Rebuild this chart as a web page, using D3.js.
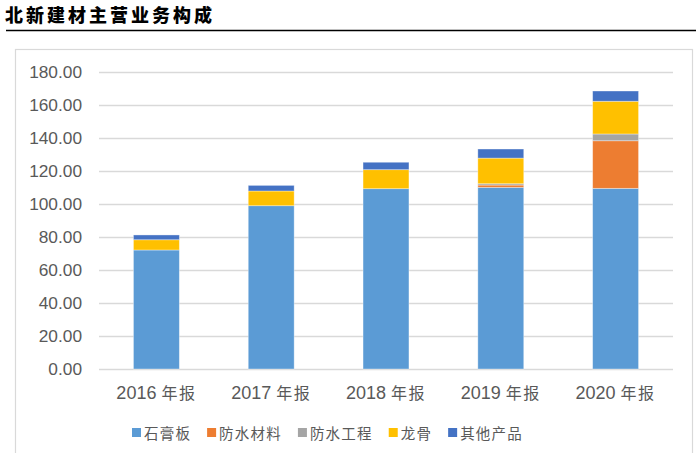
<!DOCTYPE html>
<html><head><meta charset="utf-8">
<script src="https://cdn.jsdelivr.net/npm/d3@7"></script>
<style>
html,body{margin:0;padding:0;background:#fff;}
svg{display:block;}
</style></head>
<body>
<svg id="c" width="696" height="453"></svg>
<script>
const title = "北新建材主营业务构成";
const categories = ["2016", "2017", "2018", "2019", "2020"];
const categorySuffix = "年报";
const seriesNames = ["石膏板", "防水材料", "防水工程", "龙骨", "其他产品"];
const seriesColors = ["#5B9BD5", "#ED7D31", "#A5A5A5", "#FFC000", "#4472C4"];
const gypsumBoard = [72.0, 98.8, 109.1, 109.9, 109.3];
const waterproofMaterial = [0, 0, 0, 1.4, 28.8];
const waterproofEngineering = [0, 0, 0, 0.8, 4.1];
const keel = [6.2, 8.9, 11.5, 15.5, 19.8];
const otherProducts = [2.9, 3.4, 4.5, 5.5, 6.2];
const yTicks = [0, 20, 40, 60, 80, 100, 120, 140, 160, 180];

const seriesValues = [gypsumBoard, waterproofMaterial, waterproofEngineering, keel, otherProducts];
const table = categories.map((c, i) => {
  const row = {cat: c};
  seriesNames.forEach((s, j) => row[s] = seriesValues[j][i]);
  return row;
});

const svg = d3.select("#c");
const cjk = "'Noto Sans CJK SC', sans-serif";
const latin = "'Liberation Sans', Arial, sans-serif";

// title
svg.append("text").attr("x", 5).attr("y", 22)
  .attr("font-family", cjk).attr("font-weight", 900).attr("font-size", 18)
  .attr("letter-spacing", 3).attr("fill", "#000").text(title);
svg.append("line").attr("x1", 6).attr("x2", 696).attr("y1", 30.5).attr("y2", 30.5)
  .attr("stroke", "#000").attr("stroke-width", 1.3);

// frame
svg.append("rect").attr("x", 15.5).attr("y", 49.5).attr("width", 677).attr("height", 420)
  .attr("fill", "#fff").attr("stroke", "#D9D9D9").attr("stroke-width", 1.2);

const x = d3.scaleBand().domain(categories).range([99, 673]).paddingInner(0.6).paddingOuter(0.3);
const y = d3.scaleLinear().domain([0, 180]).range([369, 71.5]);

// grid
svg.append("g").selectAll("line").data(yTicks).join("line")
  .attr("x1", 99).attr("x2", 673)
  .attr("y1", d => Math.round(y(d)) + 0.5).attr("y2", d => Math.round(y(d)) + 0.5)
  .attr("stroke", "#D9D9D9").attr("stroke-width", 1.5);

// y axis labels
const yAxis = d3.axisLeft(y).tickValues(yTicks).tickFormat(d3.format(".2f")).tickSize(0).tickPadding(0);
const ya = svg.append("g").attr("transform", "translate(82,0)").call(yAxis);
ya.select(".domain").remove();
ya.selectAll("text").attr("font-family", latin).attr("font-size", 17.3).attr("fill", "#595959");

// bars
const stack = d3.stack().keys(seriesNames)(table);
svg.append("g").selectAll("g").data(stack).join("g")
  .attr("fill", (d, i) => seriesColors[i])
  .selectAll("rect").data(d => d).join("rect")
  .attr("x", d => x(d.data.cat))
  .attr("width", x.bandwidth())
  .attr("y", d => y(d[1]))
  .attr("height", d => Math.max(0, y(d[0]) - y(d[1])))
  .attr("stroke", "#fff").attr("stroke-opacity", d => (d[1] - d[0]) > 0 ? 0.45 : 0).attr("stroke-width", 0.8);

// x axis labels
const xAxis = d3.axisBottom(x).tickSize(0).tickPadding(0);
const xa = svg.append("g").attr("transform", "translate(0,399)").call(xAxis);
xa.select(".domain").remove();
xa.selectAll("text").attr("dy", 0).text(null).attr("fill", "#595959")
  .each(function(d) {
    const t = d3.select(this);
    t.append("tspan").attr("font-family", latin).attr("font-size", 18).text(d + " ");
    t.append("tspan").attr("font-family", cjk).attr("font-size", 16).attr("letter-spacing", 1.5).text(categorySuffix);
  });

// legend
const lg = svg.append("g");
let lx = 132;
seriesNames.forEach((s, i) => {
  lg.append("rect").attr("x", lx).attr("y", 428).attr("width", 9).attr("height", 9).attr("fill", seriesColors[i]);
  const t = lg.append("text").attr("x", lx + 12).attr("y", 438.5)
    .attr("font-family", cjk).attr("font-size", 14.5).attr("letter-spacing", 1.2)
    .attr("fill", "#595959").text(s);
  lx += 12 + t.node().getComputedTextLength() + 16;
});
</script>
</body></html>
